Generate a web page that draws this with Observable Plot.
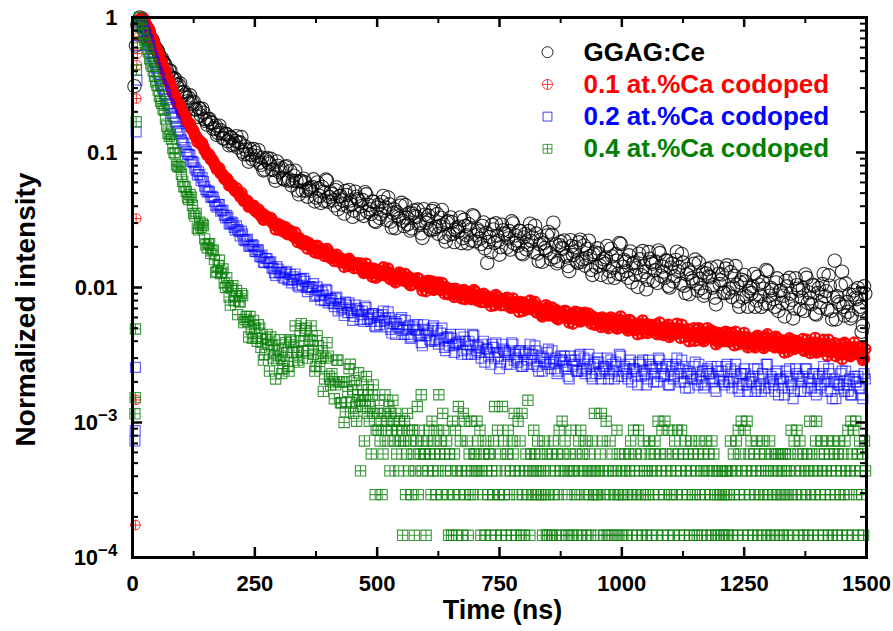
<!DOCTYPE html>
<html>
<head>
<meta charset="utf-8">
<script src="https://cdn.jsdelivr.net/npm/d3@7"></script>
<script src="https://cdn.jsdelivr.net/npm/@observablehq/plot@0.6"></script>
<style>
html,body{margin:0;padding:0;background:#fff;}
#chart{width:893px;height:631px;}
</style>
</head>
<body>
<div id="chart"></div>
<script>
// ---------------- DATA ----------------
const seriesNames = ["GGAG:Ce", "0.1 at.%Ca codoped", "0.2 at.%Ca codoped", "0.4 at.%Ca codoped"];
const seriesColors = ["#000000", "#ff0000", "#0000ff", "#008000"];

const xTickValues = [0, 250, 500, 750, 1000, 1250, 1500];
const xMinorTickValues = [125, 375, 625, 875, 1125, 1375];
const yTickValues = [1e-4, 1e-3, 1e-2, 1e-1, 1];
const yTickLabels = ["10^-4", "10^-3", "0.01", "0.1", "1"];
const yMinorTickValues = [2e-4,3e-4,4e-4,5e-4,6e-4,7e-4,8e-4,9e-4,2e-3,3e-3,4e-3,5e-3,6e-3,7e-3,8e-3,9e-3,
  0.02,0.03,0.04,0.05,0.06,0.07,0.08,0.09,0.2,0.3,0.4,0.5,0.6,0.7,0.8,0.9];

// decay samples: every 5 ns from 15 ns, plus the in-between samples at 17.5 ns + 5k
const gridTime = d3.range(15, 1500, 5);
const gridTimeMid = d3.range(17.5, 1500, 5);

// points recorded before the peak (ns)
const blackPreTime = [4, 7, 10];
const blackPreValue = [0.31, 0.62, 0.88];
const redPreTime = [6, 7, 7.5, 8, 9, 10, 12, 13.5];
const redPreValue = [1.74e-4, 1.47e-3, 0.0324, 0.251, 0.444, 0.54, 0.72, 0.88];
const bluePreTime = [5, 5.5, 6, 7.5, 9, 11, 13];
const bluePreValue = [7.3e-4, 8.7e-4, 2.56e-3, 0.142, 0.344, 0.62, 0.87];
const greenPreTime = [5, 5.5, 6, 7.5, 8, 10, 12.5];
const greenPreValue = [1.16e-3, 1.53e-3, 4.93e-3, 0.169, 0.408, 0.65, 0.88];

const blackValue = [
1.0,0.94,0.86,0.81,0.73,0.69,0.61,0.58,0.52,0.5,
0.46,0.41,0.405,0.36,0.355,0.32,0.315,0.28,0.282,0.255,
0.255,0.228,0.238,0.209,0.214,0.188,0.197,0.171,0.176,0.168,
0.149,0.158,0.139,0.146,0.127,0.137,0.121,0.13,0.113,0.122,
0.109,0.119,0.101,0.111,0.097,0.106,0.089,0.1,0.094,0.084,
0.0916,0.0751,0.0911,0.0827,0.0743,0.0659,0.0858,0.0715,0.0763,0.0629,
0.0791,0.0633,0.0571,0.0674,0.0616,0.049,0.0617,0.0639,0.0521,0.0538,
0.052,0.0633,0.0464,0.0543,0.0423,0.0513,0.063,0.0432,0.0508,0.0442,
0.0526,0.038,0.0478,0.0441,0.0519,0.0398,0.0441,0.0334,0.0513,0.045,
0.0352,0.0444,0.0508,0.0364,0.0379,0.0434,0.0312,0.0391,0.0328,0.043,
0.0371,0.0316,0.0413,0.0278,0.0379,0.0361,0.0324,0.0424,0.0285,0.0329,
0.0357,0.0274,0.0372,0.0332,0.0292,0.0252,0.038,0.0301,0.0341,0.0266,
0.0382,0.0281,0.025,0.0329,0.0293,0.0219,0.031,0.033,0.025,0.0266,
0.0259,0.033,0.0232,0.0285,0.0212,0.0268,0.0343,0.022,0.027,0.023,
0.0286,0.0195,0.0152,0.0237,0.0291,0.0214,0.0242,0.0175,0.0292,0.0252,
0.0198,0.0262,0.0309,0.0211,0.0223,0.0263,0.018,0.0235,0.0192,0.0262,
0.0221,0.0183,0.0251,0.0157,0.0226,0.0213,0.0188,0.0258,0.0162,0.0302,
0.0209,0.0157,0.0218,0.0194,0.0169,0.0144,0.0224,0.0174,0.0199,0.0152,
0.0226,0.0162,0.0145,0.0193,0.0171,0.0124,0.0182,0.0195,0.0145,0.0155,
0.015,0.0203,0.0132,0.017,0.0118,0.0158,0.0214,0.0125,0.016,0.0132,
0.0173,0.0109,0.0153,0.0139,0.0178,0.0123,0.0144,0.0097,0.0183,0.0154,
0.0112,0.0155,0.0188,0.0122,0.0131,0.0159,0.0103,0.014,0.0111,0.016,
0.0132,0.0107,0.0153,0.0091,0.0137,0.0129,0.0112,0.0161,0.0095,0.0116,
0.0129,0.0092,0.0137,0.0119,0.01,0.0084,0.0143,0.0106,0.0125,0.0091,
0.0146,0.0098,0.0085,0.0122,0.0105,0.0072,0.0114,0.0124,0.0086,0.0094,
0.0091,0.0126,0.008,0.0105,0.0072,0.0098,0.0135,0.0076,0.0099,0.0082,
0.0109,0.0067,0.0095,0.0087,0.0112,0.0076,0.009,0.0059,0.0117,0.0098,
0.0069,0.0099,0.0125,0.0077,0.0083,0.0105,0.0064,0.0091,0.0071,0.0106,
0.0086,0.0069,0.0103,0.0058,0.0158,0.0086,0.0075,0.0131,0.0062,0.0078,
0.0089,0.0062,0.0095,0.0082,0.0069,0.0047,0.0102];

const blackValueMid = [
0.95,0.92,0.828,0.8,0.689,0.656,0.583,0.558,0.491,0.473,
0.443,0.38,0.404,0.35,0.349,0.302,0.324,0.278,0.269,0.24,
0.265,0.234,0.208,0.184,0.21,0.211,0.177,0.161,0.177,0.165,
0.152,0.135,0.158,0.14,0.127,0.137,0.113,0.128,0.116,0.132,
0.118,0.13,0.097,0.104,0.0855,0.0962,0.106,0.088,0.104,0.081,
0.0736,0.0885,0.0846,0.0897,0.0748,0.0618,0.0796,0.0735,0.0644,0.0778,
0.0618,0.0729,0.0617,0.0734,0.0524,0.061,0.0524,0.0601,0.047,0.055,
0.0556,0.0434,0.06,0.0476,0.0556,0.0438,0.0618,0.0468,0.0492,0.0406,
0.0551,0.0474,0.0412,0.0353,0.0484,0.0528,0.0411,0.0371,0.047,0.044,
0.04,0.0339,0.049,0.0409,0.0351,0.0431,0.0306,0.0411,0.035,0.0477,
0.0391,0.0464,0.0308,0.0356,0.0275,0.0336,0.0404,0.0312,0.0408,0.0294,
0.0264,0.0353,0.0339,0.0378,0.03,0.0233,0.0346,0.0318,0.0271,0.0368,
0.027,0.035,0.0285,0.0375,0.0237,0.0303,0.0246,0.0305,0.0217,0.0277,
0.0282,0.0213,0.0317,0.0244,0.0294,0.0223,0.0336,0.0244,0.0261,0.021,
0.0303,0.0254,0.0217,0.0183,0.0269,0.0299,0.0223,0.0199,0.0265,0.0247,
0.0231,0.0191,0.0298,0.0243,0.0204,0.0262,0.0176,0.0249,0.0207,0.0297,
0.0235,0.0287,0.0178,0.0209,0.0155,0.0196,0.0243,0.018,0.0246,0.0168,
0.0151,0.0206,0.0197,0.0223,0.0173,0.0132,0.0203,0.0185,0.0156,0.0216,
0.0155,0.0205,0.0165,0.0222,0.0135,0.0176,0.0142,0.0179,0.0124,0.0162,
0.0167,0.0119,0.0193,0.014,0.0177,0.0126,0.021,0.0142,0.0155,0.0118,
0.0185,0.015,0.0124,0.0101,0.0162,0.0186,0.013,0.0114,0.0163,0.015,
0.0134,0.0108,0.018,0.0143,0.0118,0.0157,0.01,0.015,0.0121,0.0184,
0.0141,0.0177,0.0103,0.0125,0.0089,0.0117,0.015,0.0107,0.0153,0.0099,
0.0087,0.0127,0.0121,0.014,0.0104,0.0075,0.0126,0.0113,0.0092,0.0138,
0.0092,0.013,0.01,0.0144,0.0079,0.0109,0.0084,0.0111,0.0072,0.0099,
0.0102,0.0072,0.012,0.0086,0.011,0.0076,0.0132,0.0087,0.0096,0.0072,
0.0117,0.0094,0.0077,0.0061,0.0102,0.0118,0.0081,0.007,0.0104,0.0095,
0.0084,0.0067,0.0118,0.0092,0.0075,0.0103,0.0063,0.0099,0.0078,0.0126,
0.0094,0.0123,0.0067,0.0084,0.0058,0.0078,0.0104,0.0072,0.0107,0.0066,
0.0059,0.0088,0.0084,0.0099,0.0072,0.0052,0.009];

const redValue = [
0.97,1.0,0.93,0.85,0.78,0.705,0.635,0.572,0.518,0.466,
0.417,0.368,0.332,0.294,0.267,0.241,0.226,0.203,0.191,0.175,
0.164,0.151,0.143,0.131,0.124,0.115,0.11,0.101,0.097,0.089,
0.086,0.079,0.076,0.07,0.068,0.063,0.062,0.057,0.056,0.052,
0.0505,0.0472,0.0468,0.0438,0.0437,0.0404,0.0401,0.0374,0.0372,0.0349,
0.0354,0.032,0.0328,0.0314,0.0317,0.0292,0.0292,0.0267,0.0286,0.0273,
0.0252,0.0258,0.0258,0.0237,0.0232,0.0233,0.0214,0.0219,0.0207,0.0214,
0.0204,0.0192,0.0201,0.0179,0.019,0.0184,0.0176,0.0185,0.0165,0.0168,
0.0169,0.0156,0.0165,0.0159,0.0152,0.0145,0.0157,0.0147,0.015,0.0139,
0.0151,0.0136,0.013,0.014,0.0134,0.012,0.0133,0.0135,0.0123,0.0125,
0.0123,0.0132,0.0118,0.0125,0.0113,0.0121,0.0129,0.0113,0.0119,0.0112,
0.0119,0.0104,0.0114,0.0109,0.0116,0.0104,0.0108,0.0094,0.0112,0.0106,
0.0096,0.0105,0.0109,0.0096,0.0097,0.0101,0.0089,0.0096,0.0089,0.0098,
0.0093,0.0087,0.0095,0.0082,0.0091,0.0089,0.0085,0.0093,0.008,0.0084,
0.0086,0.0078,0.0086,0.0083,0.0079,0.0074,0.0085,0.0078,0.0081,0.0074,
0.0084,0.0075,0.0071,0.0078,0.0075,0.0066,0.0075,0.0077,0.0069,0.007,
0.0069,0.0075,0.0066,0.007,0.0063,0.0068,0.0074,0.0062,0.0067,0.0063,
0.0068,0.0058,0.0065,0.0062,0.0067,0.0059,0.0062,0.0054,0.0066,0.0062,
0.0056,0.0062,0.0065,0.0057,0.0058,0.0061,0.0053,0.0058,0.0054,0.006,
0.00577,0.0052,0.00582,0.00556,0.00526,0.00496,0.0058,0.00528,0.00553,0.00501,
0.00574,0.00509,0.00485,0.00538,0.00514,0.00458,0.00523,0.00535,0.0048,0.00491,
0.00485,0.00531,0.00463,0.00498,0.00444,0.00484,0.0053,0.00446,0.00481,0.00452,
0.00491,0.00423,0.0047,0.00455,0.00491,0.00435,0.00457,0.00403,0.0049,0.00464,
0.00413,0.00466,0.005,0.00425,0.00435,0.00467,0.00397,0.00444,0.00407,0.00465,
0.00432,0.00398,0.00455,0.00373,0.00436,0.00425,0.00403,0.0046,0.00377,0.00405,
0.00419,0.00371,0.00426,0.00404,0.00381,0.00356,0.00431,0.00386,0.00411,0.00365,
0.00432,0.00376,0.00356,0.00405,0.00384,0.00336,0.00394,0.00407,0.00357,0.00369,
0.00363,0.00415,0.00343,0.00383,0.00327,0.00371,0.00423,0.00334,0.00372,0.00341,
0.00384,0.00312,0.00362,0.00346,0.00386,0.00328,0.00351,0.00295,0.00389,0.00361,
0.00313,0.0036,0.00391,0.00323,0.00331,0.0036,0.00297];

const redValueMid = [
0.975,0.98,0.887,0.835,0.727,0.674,0.597,0.549,0.481,0.44,
0.394,0.341,0.319,0.277,0.258,0.229,0.221,0.196,0.184,0.166,
0.163,0.148,0.134,0.12,0.121,0.117,0.104,0.096,0.0953,0.0887,
0.0822,0.075,0.0763,0.0698,0.0644,0.0643,0.0572,0.0577,0.0536,0.0544,
0.05,0.0501,0.0437,0.0439,0.0396,0.0399,0.0403,0.0365,0.0379,0.0339,
0.0317,0.0338,0.0324,0.0327,0.0298,0.0269,0.0296,0.0282,0.0261,0.028,
0.0248,0.0263,0.0241,0.0255,0.0217,0.0228,0.021,0.022,0.0194,0.0206,
0.0203,0.0182,0.0204,0.0183,0.0192,0.0171,0.0193,0.017,0.0172,0.0157,
0.0175,0.0163,0.0153,0.0142,0.016,0.0163,0.0146,0.0139,0.0151,0.0146,
0.0139,0.0128,0.015,0.0137,0.0127,0.0138,0.0118,0.0134,0.0124,0.0141,
0.0129,0.0138,0.0115,0.0122,0.0109,0.0118,0.0127,0.0113,0.0126,0.0109,
0.0104,0.0116,0.0113,0.0117,0.0106,0.0095,0.0111,0.0106,0.0099,0.0111,
0.0097,0.0107,0.0098,0.0108,0.009,0.0098,0.009,0.0097,0.0085,0.0093,
0.0093,0.0083,0.0096,0.0086,0.0092,0.0082,0.0096,0.0084,0.0086,0.0078,
0.009,0.0084,0.0078,0.0073,0.0084,0.0088,0.0077,0.0074,0.0082,0.008,
0.0076,0.0071,0.0083,0.0076,0.0071,0.0078,0.0067,0.0075,0.007,0.008,
0.0073,0.0078,0.0065,0.0069,0.0061,0.0066,0.0071,0.0063,0.0071,0.0061,
0.0059,0.0066,0.0064,0.0067,0.0061,0.0055,0.0064,0.0062,0.0058,0.0065,
0.0057,0.0063,0.0058,0.0064,0.0054,0.0059,0.0054,0.0059,0.0051,0.0057,
0.0057,0.005,0.006,0.0053,0.0058,0.005,0.0061,0.0052,0.0054,0.0048,
0.0057,0.0053,0.0049,0.0045,0.0054,0.0057,0.0049,0.0046,0.0053,0.0051,
0.0049,0.0045,0.0055,0.005,0.0046,0.0051,0.0043,0.005,0.0046,0.0054,
0.0049,0.0053,0.0043,0.0046,0.004,0.0045,0.005,0.0043,0.005,0.0042,
0.004,0.0046,0.0045,0.0048,0.0042,0.0038,0.0046,0.0044,0.004,0.0047,
0.004,0.0046,0.0042,0.0047,0.0038,0.0043,0.0039,0.0043,0.0036,0.0041,
0.0041,0.0036,0.0044,0.0038,0.0042,0.0037,0.0045,0.0038,0.004,0.0036,
0.0042,0.0039,0.0036,0.0033,0.004,0.0042,0.0037,0.0035,0.004,0.0039,
0.0037,0.0034,0.0041,0.0038,0.0035,0.0039,0.0033,0.0038,0.0035,0.0041,
0.0037,0.0041,0.0033,0.0035,0.0031,0.0034,0.0038,0.0033,0.0038,0.0032,
0.0031,0.0035,0.0034,0.0036,0.0032,0.0029,0.0035];

const blueValue = [
1.0,0.87,0.79,0.69,0.62,0.515,0.465,0.395,0.355,0.31,
0.283,0.247,0.225,0.195,0.179,0.154,0.143,0.124,0.116,0.102,
0.097,0.086,0.084,0.074,0.072,0.062,0.061,0.053,0.052,0.0465,
0.0465,0.0405,0.0413,0.0367,0.0372,0.0328,0.0331,0.0294,0.03,0.0266,
0.0269,0.0241,0.0249,0.0221,0.0227,0.0202,0.0208,0.0185,0.0191,0.017,
0.0174,0.0153,0.0164,0.0152,0.014,0.0129,0.0143,0.0129,0.013,0.0117,
0.0132,0.0115,0.0108,0.012,0.0114,0.0101,0.0116,0.0117,0.01,0.0101,
0.0097,0.0107,0.0088,0.0095,0.0081,0.0088,0.0097,0.0077,0.0083,0.0076,
0.0083,0.0067,0.0076,0.0071,0.0078,0.0065,0.0069,0.0057,0.0074,0.0068,
0.0058,0.0067,0.0073,0.0058,0.0059,0.0064,0.0052,0.006,0.0053,0.0063,
0.0057,0.0051,0.006,0.0046,0.0056,0.0054,0.005,0.006,0.0045,0.0049,
0.0052,0.0043,0.0053,0.0048,0.0044,0.0039,0.0053,0.0044,0.0048,0.004,
0.0052,0.0041,0.0038,0.0046,0.0042,0.0034,0.0043,0.0045,0.0037,0.0038,
0.0038,0.0045,0.0034,0.004,0.0032,0.0037,0.0045,0.0032,0.0037,0.0033,
0.0038,0.0028,0.0035,0.0033,0.0038,0.003,0.0033,0.0025,0.0038,0.0034,
0.0027,0.0034,0.0039,0.0029,0.003,0.0034,0.0026,0.0032,0.0027,0.0034,
0.003,0.0027,0.0034,0.0024,0.0031,0.003,0.0027,0.0035,0.0025,0.0028,
0.003,0.0024,0.0031,0.0028,0.0025,0.0022,0.0031,0.0026,0.0029,0.0024,
0.0032,0.0025,0.0023,0.0029,0.0026,0.0021,0.0028,0.003,0.0023,0.0024,
0.0025,0.003,0.0023,0.0027,0.0021,0.0026,0.0032,0.0022,0.0026,0.0023,
0.0027,0.002,0.0025,0.0024,0.0028,0.0022,0.0024,0.0019,0.0029,0.0026,
0.002,0.0026,0.003,0.0022,0.0023,0.0026,0.0019,0.0024,0.0021,0.0027,
0.0023,0.002,0.0026,0.0018,0.0024,0.0023,0.0021,0.0028,0.0019,0.0022,
0.0024,0.0019,0.0025,0.0023,0.002,0.0018,0.0026,0.0021,0.0024,0.0019,
0.0027,0.002,0.0018,0.0024,0.0022,0.0017,0.0023,0.0025,0.0019,0.002,
0.002,0.0025,0.0018,0.0022,0.0017,0.0021,0.0027,0.0018,0.0022,0.0019,
0.0023,0.0016,0.0021,0.002,0.0024,0.0018,0.002,0.0015,0.0025,0.0022,
0.0017,0.0022,0.0025,0.0018,0.002,0.0023,0.0017,0.0021,0.0018,0.0023,
0.002,0.0017,0.0023,0.0015,0.0021,0.002,0.0019,0.0024,0.0017,0.0019,
0.0021,0.0016,0.0022,0.002,0.0018,0.0016,0.0023];

const blueValueMid = [
0.928,0.847,0.737,0.675,0.551,0.493,0.423,0.379,0.321,0.297,
0.267,0.23,0.215,0.185,0.168,0.145,0.138,0.119,0.109,0.097,
0.0957,0.0856,0.0769,0.0683,0.0686,0.0648,0.0562,0.051,0.0511,0.0473,
0.0434,0.0393,0.0412,0.0375,0.0343,0.0342,0.0297,0.0305,0.0279,0.0286,
0.026,0.0262,0.0226,0.0225,0.0202,0.0204,0.0204,0.0184,0.0189,0.0168,
0.0154,0.0164,0.0155,0.0155,0.0138,0.0123,0.0137,0.0129,0.0119,0.0129,
0.0114,0.0125,0.0114,0.0126,0.0104,0.0115,0.0104,0.0111,0.0093,0.0101,
0.01,0.0086,0.0101,0.0087,0.0093,0.008,0.0095,0.008,0.0081,0.0072,
0.0085,0.0076,0.0069,0.0062,0.0074,0.0077,0.0065,0.0061,0.007,0.0067,
0.0063,0.0056,0.0071,0.0063,0.0056,0.0064,0.0051,0.0062,0.0056,0.0067,
0.0059,0.0066,0.0049,0.0054,0.0045,0.0051,0.0058,0.0048,0.0057,0.0045,
0.0042,0.0051,0.0049,0.0053,0.0045,0.0037,0.0049,0.0046,0.0041,0.005,
0.004,0.0048,0.0041,0.005,0.0036,0.0043,0.0037,0.0042,0.0033,0.0039,
0.004,0.0032,0.0043,0.0035,0.004,0.0032,0.0044,0.0034,0.0036,0.003,
0.004,0.0035,0.0031,0.0027,0.0036,0.0039,0.0031,0.0028,0.0035,0.0033,
0.0031,0.0027,0.0038,0.0032,0.0028,0.0034,0.0026,0.0033,0.0029,0.0038,
0.0032,0.0037,0.0026,0.003,0.0024,0.0028,0.0033,0.0027,0.0034,0.0025,
0.0023,0.0029,0.0029,0.0031,0.0026,0.0021,0.0029,0.0027,0.0024,0.0031,
0.0024,0.003,0.0025,0.0032,0.0022,0.0027,0.0023,0.0028,0.0021,0.0026,
0.0026,0.0021,0.0029,0.0024,0.0028,0.0022,0.0031,0.0024,0.0025,0.0021,
0.0029,0.0025,0.0022,0.0019,0.0027,0.0029,0.0023,0.0021,0.0027,0.0025,
0.0023,0.002,0.0029,0.0025,0.0022,0.0027,0.0019,0.0026,0.0022,0.003,
0.0025,0.0029,0.002,0.0023,0.0018,0.0022,0.0026,0.0021,0.0027,0.002,
0.0018,0.0024,0.0023,0.0026,0.0021,0.0017,0.0024,0.0022,0.002,0.0026,
0.002,0.0025,0.0021,0.0027,0.0018,0.0023,0.0019,0.0023,0.0017,0.0021,
0.0022,0.0017,0.0025,0.0019,0.0023,0.0018,0.0027,0.002,0.0021,0.0017,
0.0024,0.0021,0.0018,0.0016,0.0022,0.0025,0.0019,0.0017,0.0023,0.0021,
0.002,0.0017,0.0025,0.0021,0.0018,0.0023,0.0016,0.0022,0.0019,0.0026,
0.0021,0.0025,0.0017,0.002,0.0015,0.0019,0.0023,0.0018,0.0024,0.0017,
0.0016,0.0021,0.002,0.0022,0.0018,0.0015,0.0021];

// 0.4 at.% sample: 15..445 ns and 17.5..447.5 ns, every 5 ns
const greenMainTime = d3.range(15, 450, 5);
const greenMainValue = [
1.0,0.83,0.68,0.585,0.495,0.435,0.366,0.314,0.261,0.231,
0.205,0.157,0.132,0.125,0.1,0.081,0.079,0.069,0.056,0.0515,
0.0449,0.0466,0.0353,0.0354,0.0267,0.0279,0.0288,0.0207,0.0211,0.0179,
0.0189,0.0129,0.0145,0.0127,0.0137,0.01,0.0103,0.0074,0.0103,0.0086,
0.0063,0.0078,0.0087,0.0058,0.0056,0.0061,0.0042,0.005,0.004,0.005,
0.0042,0.0032,0.0045,0.0024,0.0037,0.0034,0.0029,0.0041,0.0023,0.0029,
0.0033,0.0024,0.004,0.0036,0.0033,0.0028,0.0054,0.004,0.005,0.0034,
0.0052,0.0032,0.0026,0.0037,0.003,0.0017,0.003,0.0031,0.0019,0.002,
0.0019,0.0029,0.0014,0.002,0.0012,0.0017,0.0027];
const greenMainTimeMid = d3.range(17.5, 450, 5);
const greenMainValueMid = [
0.893,0.765,0.632,0.557,0.454,0.403,0.334,0.29,0.239,0.21,
0.177,0.139,0.136,0.107,0.0976,0.0788,0.0777,0.0611,0.0555,0.0464,
0.0488,0.0406,0.0338,0.0275,0.0304,0.0296,0.0229,0.0197,0.0211,0.0187,
0.0161,0.0131,0.0159,0.013,0.0108,0.0118,0.0085,0.0098,0.008,0.0095,
0.0079,0.009,0.0055,0.0061,0.0043,0.0049,0.0057,0.0042,0.0053,0.0036,
0.0029,0.0041,0.0038,0.0043,0.003,0.0021,0.0035,0.0031,0.0025,0.0039,
0.0026,0.0041,0.0033,0.0052,0.0029,0.0044,0.0034,0.0048,0.003,0.0041,
0.004,0.0024,0.0044,0.0026,0.0034,0.0021,0.0039,0.0022,0.0023,0.0015,
0.0029,0.002,0.0014,0.001,0.002,0.0025,0.0014];

// 0.4 at.% tail, 450..1498 ns every 2 ns: photon counts (one count = level spacing)
const greenCountStep = 1.46e-4;
const greenTailTime = d3.range(450, 1500, 2);
const greenTailCounts = [
12,8,14,9,7,11,16,10,3,13,9,11,5,10,15,8,12,7,9,4,11,13,8,2,6,
8,6,10,5,7,2,4,8,11,6,7,5,9,3,8,6,10,7,5,8,4,6,3,7,5,
6,1,5,7,2,4,8,3,6,5,2,6,4,1,3,5,9,2,6,4,11,3,5,4,4,
1,5,3,6,4,2,7,3,5,4,2,6,3,11,4,5,2,8,6,4,3,5,2,1,4,
3,1,7,2,4,6,1,3,9,2,5,3,1,8,7,2,3,5,1,4,2,7,3,2,4,
3,4,7,5,3,6,1,3,2,4,1,5,3,2,4,4,1,3,2,5,9,1,3,6,2,
2,4,1,9,5,2,3,1,4,6,2,3,1,5,4,8,3,1,2,7,3,5,1,8,2,
1,3,4,2,10,3,1,4,2,3,6,4,2,3,5,2,4,3,2,1,3,5,2,1,4,
2,1,3,4,1,5,2,3,1,4,2,6,3,1,7,4,3,5,1,2,3,1,4,6,3,
1,3,2,4,2,1,5,3,6,1,4,3,2,5,1,3,2,4,1,3,5,2,8,3,2,
2,1,3,4,8,5,3,1,2,7,1,3,2,5,1,4,3,2,1,3,6,2,1,4,2,
3,1,2,4,3,1,2,4,3,5,1,2,6,3,4,2,1,6,3,2,4,1,5,3,2,
1,3,2,5,4,1,3,2,4,5,3,1,7,2,4,3,6,1,2,7,4,3,1,6,2,
3,2,4,1,5,3,2,6,4,1,3,6,2,4,1,5,3,2,4,1,3,5,2,4,1,
2,3,1,4,5,2,3,1,4,3,2,5,1,3,4,2,1,5,3,4,2,1,3,2,1,
3,2,1,3,2,1,3,2,3,1,2,5,3,1,4,2,3,5,1,6,2,4,7,3,1,
2,6,3,7,1,4,2,5,3,1,4,2,3,5,1,2,4,3,1,5,2,4,3,1,2,
3,5,1,4,2,3,1,4,2,3,4,1,2,3,4,1,2,4,3,1,2,3,4,6,2,
1,5,3,2,6,4,1,5,3,2,4,1,3,2,4,1,3,7,2,4,1,3,2,5,7,
3,1,4,2,5,3,1,4,2,3,5,1,4,2,3,1,5,4,2,3,1,4,5,2,3,
1,4,2,5,3,1,6,2,3,7,4,1,6,3,7,2,4,1,5,3,2,4,1,5,3];

// ---------------- BUILD ----------------
const rows = (times, values) => times.map((t, i) => ({t, v: values[i]}));
const byTime = (a, b) => a.t - b.t;
const blackData = rows(blackPreTime, blackPreValue)
  .concat(rows(gridTime, blackValue), rows(gridTimeMid, blackValueMid)).sort(byTime);
const redPreData = rows(redPreTime, redPreValue);
const redData = rows(gridTime, redValue).concat(rows(gridTimeMid, redValueMid)).sort(byTime);
const blueData = rows(bluePreTime, bluePreValue)
  .concat(rows(gridTime, blueValue), rows(gridTimeMid, blueValueMid)).sort(byTime);
const greenData = rows(greenPreTime, greenPreValue)
  .concat(rows(greenMainTime, greenMainValue), rows(greenMainTimeMid, greenMainValueMid),
          rows(greenTailTime, greenTailCounts.map(k => k * greenCountStep))).sort(byTime);

const symCirclePlus = {
  draw(ctx, size) {
    const r = Math.sqrt(size / Math.PI);
    ctx.moveTo(r, 0); ctx.arc(0, 0, r, 0, 2 * Math.PI);
    ctx.moveTo(-r, 0); ctx.lineTo(r, 0);
    ctx.moveTo(0, -r); ctx.lineTo(0, r);
  }
};
const symSquarePlus = {
  draw(ctx, size) {
    const h = Math.sqrt(size) / 2;
    ctx.moveTo(-h, -h); ctx.lineTo(h, -h); ctx.lineTo(h, h); ctx.lineTo(-h, h); ctx.closePath();
    ctx.moveTo(-h, 0); ctx.lineTo(h, 0);
    ctx.moveTo(0, -h); ctx.lineTo(0, h);
  }
};

const W = 893, H = 631, ML = 132, MR = 27, MT = 17, MB = 74;
const FW = W - ML - MR, FH = H - MT - MB;
const FONT = "'Liberation Sans', Arial, Helvetica, sans-serif";

const yTicks = (vals, len, sw) => [
  Plot.ruleY(vals, {y: d => d, insetRight: FW - len, stroke: "#000", strokeWidth: sw}),
  Plot.ruleY(vals, {y: d => d, insetLeft: FW - len, stroke: "#000", strokeWidth: sw})
];
const xTicks = (vals, len, sw) => [
  Plot.ruleX(vals, {x: d => d, insetTop: FH - len, stroke: "#000", strokeWidth: sw}),
  Plot.ruleX(vals, {x: d => d, insetBottom: FH - len, stroke: "#000", strokeWidth: sw})
];

const legendSymbols = ["circle", symCirclePlus, "square", symSquarePlus];
const legendR = [5.5, 5, 5, 5];
const legendMarks = [];
seriesNames.forEach((name, i) => {
  const dy = 34.7 + i * 32.2;
  legendMarks.push(Plot.dot([name], {frameAnchor: "top-left", dx: 415, dy, r: legendR[i],
    symbol: legendSymbols[i], stroke: seriesColors[i], strokeWidth: 1, strokeOpacity: i === 0 ? 0.85 : 0.75, fill: "none"}));
  legendMarks.push(Plot.text([name], {frameAnchor: "top-left", dx: 451, dy, textAnchor: "start", lineAnchor: "middle",
    fontSize: 26, fontWeight: "bold", fill: seriesColors[i], fontFamily: FONT}));
});

const chart = Plot.plot({
  width: W, height: H,
  marginLeft: ML, marginRight: MR, marginTop: MT, marginBottom: MB,
  x: {domain: [0, 1500]},
  y: {type: "log", domain: [1e-4, 1]},
  style: {fontFamily: FONT, background: "#fff", color: "#000"},
  marks: [
    Plot.dot(blackData, {x: "t", y: "v", r: 6.7, symbol: "circle", stroke: "#000", strokeWidth: 1.1, strokeOpacity: 0.8, fill: "none"}),
    Plot.dot(redPreData, {x: "t", y: "v", r: 4.8, symbol: symCirclePlus, stroke: "#ff0000", strokeWidth: 1, strokeOpacity: 0.8, fill: "none"}),
    Plot.dot(redData, {x: "t", y: "v", r: 5.1, symbol: symCirclePlus, stroke: "#ff0000", strokeWidth: 2.3, strokeOpacity: 0.95, fill: "none"}),
    Plot.dot(blueData, {x: "t", y: "v", r: 5.6, symbol: "square", stroke: "#0000ff", strokeWidth: 1.2, strokeOpacity: 0.6, fill: "none"}),
    Plot.dot(greenData, {x: "t", y: "v", r: 5.8, symbol: symSquarePlus, stroke: "#0a800a", strokeWidth: 1.1, strokeOpacity: 0.8, fill: "none"}),
    Plot.frame({stroke: "#000", strokeWidth: 3}),
    ...yTicks(yTickValues, 10, 2.5),
    ...yTicks(yMinorTickValues, 6, 2),
    ...xTicks(xTickValues, 10, 2.5),
    ...xTicks(xMinorTickValues, 6, 2),
    Plot.axisY({anchor: "left", ticks: yTickValues, tickSize: 0, tickPadding: 15,
      tickFormat: d => yTickLabels[yTickValues.indexOf(d)], fontSize: 22, fontWeight: "bold", label: null}),
    Plot.axisX({anchor: "bottom", ticks: xTickValues, tickSize: 0, tickPadding: 18,
      tickFormat: d3.format("d"), fontSize: 22, fontWeight: "bold", label: null}),
    Plot.text(["Normalized intensity"], {frameAnchor: "left", rotate: -90, dx: -106, dy: 22,
      textAnchor: "middle", lineAnchor: "middle", fontSize: 28, fontWeight: "bold", fontFamily: FONT}),
    Plot.text(["Time (ns)"], {frameAnchor: "bottom", dx: 3, dy: 52.4,
      textAnchor: "middle", lineAnchor: "middle", fontSize: 27, fontWeight: "bold", fontFamily: FONT}),
    ...legendMarks
  ]
});

// superscript exponents on the y tick labels
const NS = "http://www.w3.org/2000/svg";
chart.querySelectorAll('g[aria-label="y-axis tick label"] text').forEach(t => {
  const s = t.textContent;
  if (s.startsWith("10^")) {
    const exp = s.slice(3).replace("-", "\u2212");
    t.textContent = "";
    const a = document.createElementNS(NS, "tspan");
    a.textContent = "10";
    const b = document.createElementNS(NS, "tspan");
    b.textContent = exp;
    b.setAttribute("font-size", "17");
    b.setAttribute("dy", "-0.5em");
    t.appendChild(a); t.appendChild(b);
  }
});

document.getElementById("chart").appendChild(chart);
</script>
</body>
</html>
